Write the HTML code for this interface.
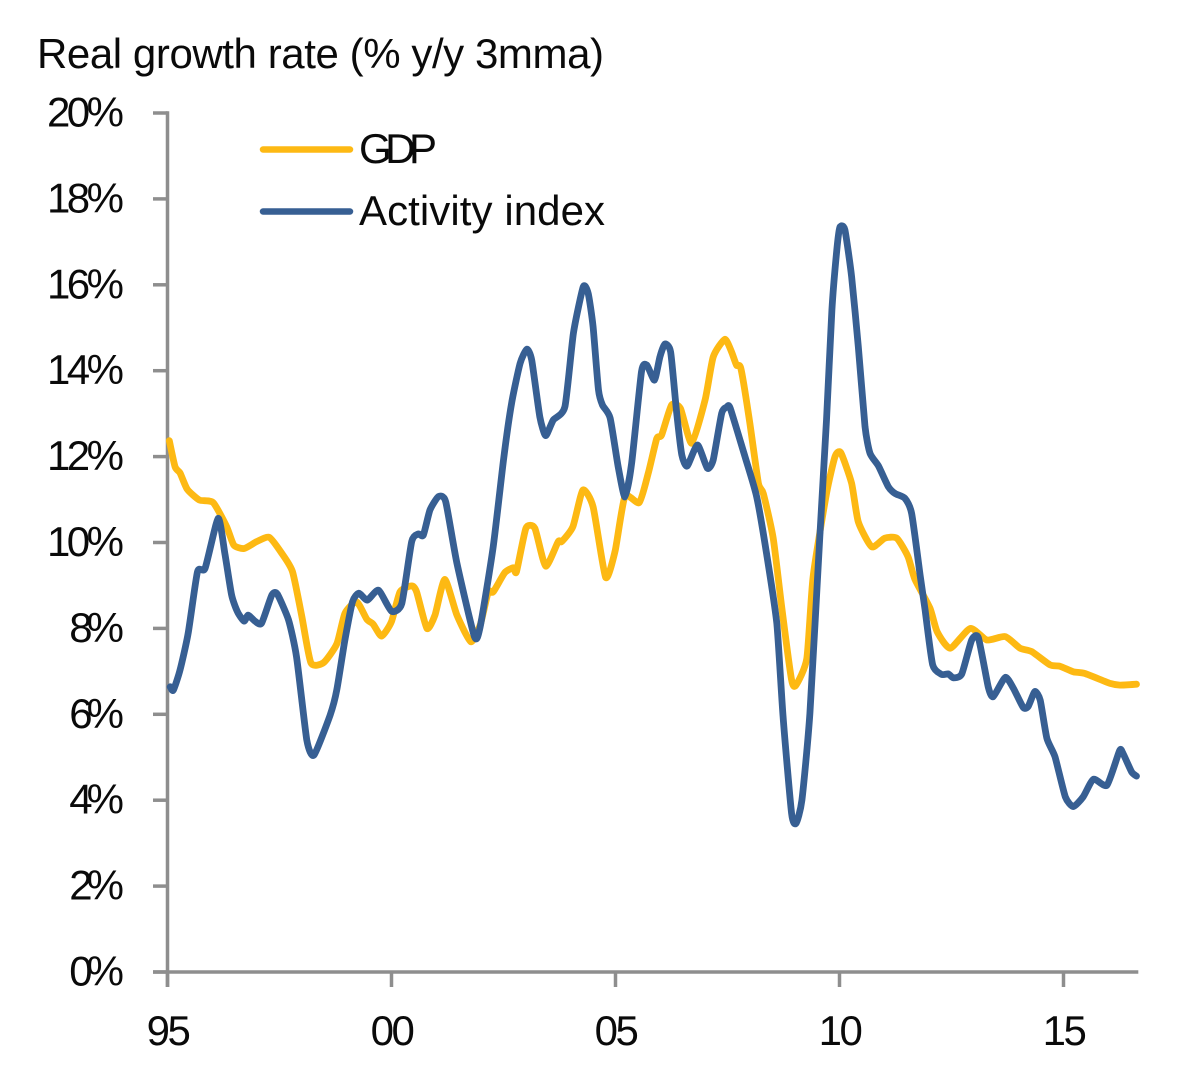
<!DOCTYPE html>
<html lang="en">
<head>
<meta charset="utf-8">
<title>Real growth rate chart</title>
<style>
html,body{margin:0;padding:0;background:#fff;}
svg{display:block;}
text{font-family:"Liberation Sans",Arial,sans-serif;fill:#0a0a0a;font-size:42px;}
</style>
</head>
<body>
<svg id="chart" width="1200" height="1074" viewBox="0 0 1200 1074" xmlns="http://www.w3.org/2000/svg">
  <rect width="1200" height="1074" fill="#fff"/>
  <text x="37" y="68" textLength="567" lengthAdjust="spacing">Real growth rate (% y/y 3mma)</text>
  <g id="axes"></g>
  <g id="series"></g>
  <g>
    <line x1="263" y1="149.5" x2="350" y2="149.5" stroke="#fdb913" stroke-width="6.5" stroke-linecap="round"/>
    <text x="359" y="163" textLength="78" lengthAdjust="spacing">GDP</text>
    <line x1="263" y1="211.5" x2="350" y2="211.5" stroke="#375f93" stroke-width="6.5" stroke-linecap="round"/>
    <text x="359" y="225" textLength="246" lengthAdjust="spacing">Activity index</text>
  </g>
</svg>
<script>
var yTickValues = [0,2,4,6,8,10,12,14,16,18,20];
var xTickYears = [0,5,10,15,20];
var xTickLabels = ["95","00","05","10","15"];

// Years since January 1995, and growth in %
var gdpYears = [0.04,0.17,0.28,0.44,0.71,1.02,1.32,1.48,1.71,1.99,2.27,2.55,2.79,3.00,3.20,3.48,3.78,3.96,4.22,4.45,4.59,4.78,5.00,5.19,5.45,5.56,5.79,5.97,6.19,6.46,6.77,6.98,7.16,7.27,7.53,7.72,7.79,8.00,8.20,8.44,8.72,8.80,9.05,9.27,9.50,9.78,9.99,10.21,10.53,10.73,10.92,11.03,11.25,11.45,11.70,12.00,12.18,12.44,12.59,12.70,12.80,13.00,13.19,13.30,13.52,13.71,13.93,14.03,14.27,14.41,14.71,14.90,15.03,15.27,15.42,15.72,16.01,16.28,16.53,16.68,17.02,17.18,17.47,17.92,18.29,18.70,19.03,19.29,19.70,19.92,20.22,20.48,21.04,21.26,21.63];
var gdpValues = [12.37,11.76,11.62,11.24,10.99,10.93,10.37,9.94,9.86,10.02,10.12,9.75,9.32,8.27,7.20,7.20,7.64,8.35,8.62,8.21,8.10,7.82,8.16,8.85,8.99,8.85,8.00,8.31,9.14,8.31,7.69,8.08,8.85,8.85,9.30,9.41,9.32,10.33,10.33,9.45,10.02,10.02,10.37,11.22,10.83,9.19,9.80,11.07,10.93,11.61,12.42,12.50,13.20,13.12,12.31,13.32,14.32,14.73,14.44,14.13,14.05,12.77,11.38,11.14,10.10,8.50,6.80,6.68,7.30,9.20,11.14,12.00,12.09,11.38,10.48,9.90,10.10,10.10,9.67,9.15,8.47,7.92,7.54,8.00,7.73,7.81,7.54,7.46,7.15,7.12,6.99,6.95,6.72,6.68,6.70];

var activityYears = [0.06,0.13,0.28,0.46,0.67,0.84,1.13,1.28,1.43,1.56,1.71,1.80,1.95,2.10,2.33,2.45,2.70,2.88,3.11,3.27,3.63,3.78,3.96,4.13,4.27,4.46,4.71,5.00,5.23,5.45,5.60,5.71,5.86,6.05,6.21,6.46,6.85,6.98,7.27,7.50,7.68,7.87,8.02,8.13,8.31,8.44,8.61,8.87,9.06,9.28,9.39,9.50,9.62,9.71,9.88,10.06,10.21,10.36,10.58,10.70,10.87,10.99,11.10,11.23,11.36,11.48,11.60,11.83,12.05,12.18,12.37,12.48,12.56,12.89,13.15,13.37,13.60,13.74,13.93,14.03,14.16,14.34,14.56,14.71,14.83,14.94,15.01,15.12,15.27,15.42,15.57,15.68,15.87,16.09,16.24,16.46,16.61,16.80,16.91,17.08,17.28,17.43,17.54,17.73,17.95,18.10,18.32,18.43,18.70,18.88,19.10,19.21,19.36,19.48,19.63,19.81,20.04,20.22,20.44,20.67,20.97,21.25,21.32,21.52,21.63];
var activityValues = [6.64,6.56,7.03,7.88,9.32,9.40,10.56,9.75,8.78,8.39,8.17,8.31,8.17,8.12,8.78,8.80,8.20,7.34,5.40,5.05,5.98,6.57,7.73,8.62,8.82,8.66,8.89,8.40,8.58,10.02,10.20,10.17,10.76,11.07,10.95,9.52,7.81,8.04,9.90,11.92,13.24,14.17,14.50,14.25,12.93,12.49,12.85,13.16,14.87,15.95,15.80,15.02,13.55,13.20,12.90,11.76,11.06,11.84,13.98,14.13,13.78,14.32,14.62,14.44,13.08,12.04,11.78,12.27,11.73,11.92,13.01,13.15,13.13,12.00,11.07,9.75,8.12,5.94,3.69,3.46,4.00,6.02,10.13,12.85,15.41,16.81,17.34,17.28,16.19,14.56,12.70,12.08,11.78,11.30,11.14,11.03,10.68,9.24,8.43,7.15,6.93,6.94,6.85,6.94,7.73,7.78,6.64,6.41,6.86,6.61,6.16,6.18,6.53,6.33,5.44,5.01,4.08,3.85,4.08,4.49,4.35,5.15,5.11,4.66,4.56];

var SVG_NS = "http://www.w3.org/2000/svg";
var AXIS_COLOR = "#8e8e8e";
function xScale(years) { return 167.5 + 44.8 * years; }
function yScale(pct) { return 972 - 42.95 * pct; }

var axes = document.getElementById("axes");
var seriesGroup = document.getElementById("series");

function axisLine(x1, y1, x2, y2) {
  var l = document.createElementNS(SVG_NS, "line");
  l.setAttribute("x1", x1);
  l.setAttribute("y1", y1);
  l.setAttribute("x2", x2);
  l.setAttribute("y2", y2);
  l.setAttribute("stroke", AXIS_COLOR);
  l.setAttribute("stroke-width", 3.5);
  axes.appendChild(l);
  return l;
}

var yAxisLine = axisLine(167.5, yScale(20) - 1.7, 167.5, yScale(0) + 15);



var xAxisLine = axisLine(153, yScale(0), xScale(21.67), yScale(0));



yTickValues.forEach(function (v) {
  var tick = axisLine(153, yScale(v), 167.5, yScale(v));
  
  
  var squeeze = v < 10 ? 6 : 3.5;
  var t = document.createElementNS(SVG_NS, "text");
  t.setAttribute("x", 124 - squeeze);
  t.setAttribute("y", yScale(v) + 13.5);
  t.setAttribute("text-anchor", "end");
  t.setAttribute("letter-spacing", -squeeze);
  t.textContent = v + "%";
  
  
  axes.appendChild(t);
});

xTickYears.forEach(function (yr, i) {
  var tick = axisLine(xScale(yr), yScale(0), xScale(yr), yScale(0) + 15);
  
  
  var t = document.createElementNS(SVG_NS, "text");
  t.setAttribute("x", xScale(yr));
  t.setAttribute("y", 1045);
  t.setAttribute("text-anchor", "middle");
  t.setAttribute("letter-spacing", "-2.5");
  t.textContent = xTickLabels[i];
  
  
  axes.appendChild(t);
});

function drawSeries(years, values, color) {
  var px = years.map(function (yr) { return xScale(yr); });
  var py = values.map(function (v) { return yScale(v); });
  var k = 1 / 10;
  var d = "M" + px[0].toFixed(1) + " " + py[0].toFixed(1);
  for (var i = 0; i < px.length - 1; i++) {
    var a = Math.max(i - 1, 0);
    var b = Math.min(i + 2, px.length - 1);
    var c1x = px[i] + (px[i + 1] - px[a]) * k;
    var c1y = py[i] + (py[i + 1] - py[a]) * k;
    var c2x = px[i + 1] - (px[b] - px[i]) * k;
    var c2y = py[i + 1] - (py[b] - py[i]) * k;
    d += " C" + c1x.toFixed(1) + " " + c1y.toFixed(1) + " " + c2x.toFixed(1) + " " + c2y.toFixed(1) + " " + px[i + 1].toFixed(1) + " " + py[i + 1].toFixed(1);
  }
  var p = document.createElementNS(SVG_NS, "path");
  p.setAttribute("d", d);
  p.setAttribute("fill", "none");
  p.setAttribute("stroke", color);
  p.setAttribute("stroke-width", 6.8);
  p.setAttribute("stroke-linejoin", "round");
  p.setAttribute("stroke-linecap", "round");
  seriesGroup.appendChild(p);
  return p;
}

var gdpLine = drawSeries(gdpYears, gdpValues, "#fdb913");



var activityLine = drawSeries(activityYears, activityValues, "#375f93");


</script>
</body>
</html>
